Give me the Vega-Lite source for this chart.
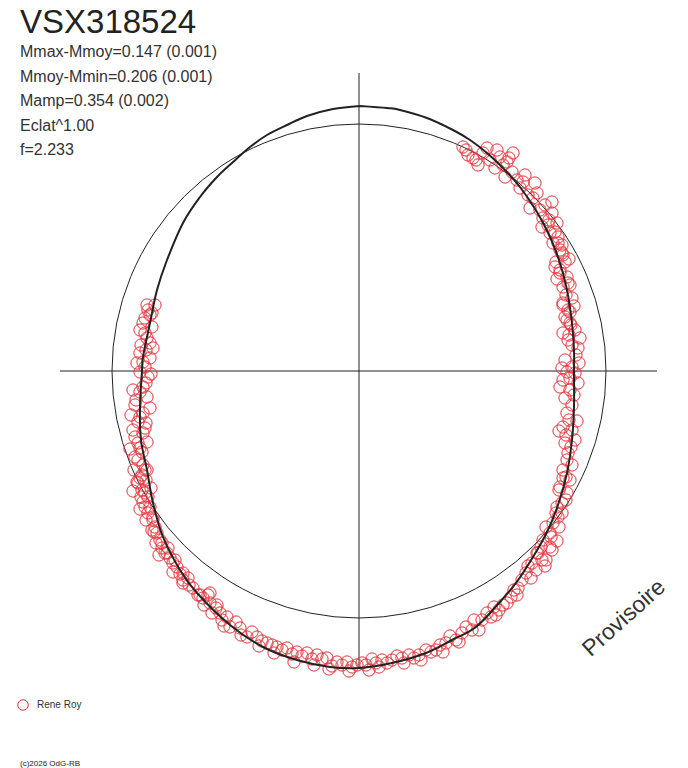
{
  "$schema": "https://vega.github.io/schema/vega-lite/v6.json",
  "description": "Polar phase diagram of VSX318524 (Rene Roy observations).",
  "width": 688,
  "height": 768,
  "autosize": "none",
  "padding": 0,
  "background": "white",
  "title": {
    "text": "VSX318524",
    "subtitle": ["Mmax-Mmoy=0.147 (0.001)", "Mmoy-Mmin=0.206 (0.001)", "Mamp=0.354 (0.002)", "Eclat^1.00", "f=2.233"],
    "anchor": "start",
    "frame": "group",
    "orient": "top",
    "offset": -158,
    "dx": 20,
    "font": "Liberation Sans",
    "fontSize": 33,
    "fontWeight": "normal",
    "color": "#222222",
    "subtitleFont": "Liberation Sans",
    "subtitleFontSize": 16,
    "subtitleColor": "#333333",
    "subtitleLineHeight": 24.5,
    "subtitlePadding": 4
  },
  "datasets": {
    "fit": [
      {"i": 0, "x": 1, "y": 265}, {"i": 1, "x": 28, "y": 263}, {"i": 2, "x": 41, "y": 261}, {"i": 3, "x": 68, "y": 253},
      {"i": 4, "x": 94, "y": 241}, {"i": 5, "x": 111, "y": 231}, {"i": 6, "x": 128, "y": 218}, {"i": 7, "x": 144, "y": 203},
      {"i": 8, "x": 161, "y": 184}, {"i": 9, "x": 178, "y": 159}, {"i": 10, "x": 191, "y": 134}, {"i": 11, "x": 201, "y": 108},
      {"i": 12, "x": 208, "y": 81}, {"i": 13, "x": 213, "y": 48}, {"i": 14, "x": 215, "y": 21}, {"i": 15, "x": 215, "y": -1},
      {"i": 16, "x": 215, "y": -36}, {"i": 17, "x": 213, "y": -69}, {"i": 18, "x": 208, "y": -102}, {"i": 19, "x": 199, "y": -134},
      {"i": 20, "x": 188, "y": -161}, {"i": 21, "x": 174, "y": -186}, {"i": 22, "x": 157, "y": -212}, {"i": 23, "x": 140, "y": -232},
      {"i": 24, "x": 117, "y": -256}, {"i": 25, "x": 93, "y": -269}, {"i": 26, "x": 67, "y": -282}, {"i": 27, "x": 33, "y": -292},
      {"i": 28, "x": 0, "y": -297}, {"i": 29, "x": -29, "y": -296}, {"i": 30, "x": -62, "y": -289}, {"i": 31, "x": -96, "y": -276},
      {"i": 32, "x": -129, "y": -254}, {"i": 33, "x": -162, "y": -222}, {"i": 34, "x": -179, "y": -199}, {"i": 35, "x": -196, "y": -166},
      {"i": 36, "x": -206, "y": -132}, {"i": 37, "x": -212, "y": -99}, {"i": 38, "x": -218, "y": -69}, {"i": 39, "x": -219, "y": -36},
      {"i": 40, "x": -217, "y": 0}, {"i": 41, "x": -216, "y": 14}, {"i": 42, "x": -209, "y": 48}, {"i": 43, "x": -202, "y": 81},
      {"i": 44, "x": -192, "y": 111}, {"i": 45, "x": -176, "y": 148}, {"i": 46, "x": -159, "y": 174}, {"i": 47, "x": -142, "y": 194},
      {"i": 48, "x": -126, "y": 209}, {"i": 49, "x": -109, "y": 224}, {"i": 50, "x": -92, "y": 236}, {"i": 51, "x": -72, "y": 246},
      {"i": 52, "x": -52, "y": 255}, {"i": 53, "x": -26, "y": 262}, {"i": 54, "x": 1, "y": 265}
    ],
    "obs": [
      {"x": 104, "y": 224}, {"x": 109, "y": 216}, {"x": 114, "y": 213}, {"x": 119, "y": 206}, {"x": 124, "y": 218},
      {"x": 138, "y": 221}, {"x": 141, "y": 214}, {"x": 154, "y": 218}, {"x": 148, "y": 209}, {"x": 136, "y": 203},
      {"x": 146, "y": 194}, {"x": 158, "y": 191}, {"x": 161, "y": 183}, {"x": 176, "y": 188}, {"x": 178, "y": 178},
      {"x": 174, "y": 173}, {"x": 193, "y": 169}, {"x": 171, "y": 163}, {"x": 181, "y": 161}, {"x": 184, "y": 153},
      {"x": 193, "y": 158}, {"x": 198, "y": 148}, {"x": 183, "y": 144}, {"x": 191, "y": 138}, {"x": 199, "y": 134},
      {"x": 194, "y": 128}, {"x": 201, "y": 121}, {"x": 204, "y": 116}, {"x": 196, "y": 104}, {"x": 201, "y": 101},
      {"x": 208, "y": 94}, {"x": 211, "y": 86}, {"x": 204, "y": 84}, {"x": 204, "y": 68}, {"x": 209, "y": 61},
      {"x": 206, "y": 54}, {"x": 211, "y": 48},
      {"x": 199, "y": 128}, {"x": 203, "y": 118}, {"x": 197, "y": 109}, {"x": 201, "y": 98}, {"x": 209, "y": 88},
      {"x": 204, "y": 66}, {"x": 211, "y": 59}, {"x": 208, "y": 51}, {"x": 216, "y": 41}, {"x": 221, "y": 33},
      {"x": 209, "y": 31}, {"x": 219, "y": 23}, {"x": 206, "y": 11}, {"x": 213, "y": 4}, {"x": 208, "y": -1},
      {"x": 216, "y": -2}, {"x": 201, "y": -16}, {"x": 211, "y": -19}, {"x": 206, "y": -27}, {"x": 213, "y": -34},
      {"x": 208, "y": -42}, {"x": 204, "y": -56}, {"x": 213, "y": -59}, {"x": 216, "y": -69}, {"x": 206, "y": -72},
      {"x": 209, "y": -82}, {"x": 204, "y": -99}, {"x": 211, "y": -109}, {"x": 201, "y": -116}, {"x": 208, "y": -122},
      {"x": 198, "y": -136}, {"x": 203, "y": -142}, {"x": 194, "y": -152}, {"x": 191, "y": -162}, {"x": 184, "y": -169},
      {"x": 191, "y": -176}, {"x": 178, "y": -182},
      {"x": 207, "y": -106}, {"x": 200, "y": -119}, {"x": 203, "y": -132}, {"x": 197, "y": -142}, {"x": 200, "y": -156},
      {"x": 192, "y": -166}, {"x": 193, "y": -179}, {"x": 182, "y": -176}, {"x": 183, "y": -189}, {"x": 173, "y": -192},
      {"x": 177, "y": -199}, {"x": 167, "y": -202}, {"x": 163, "y": -209}, {"x": 152, "y": -226}, {"x": 148, "y": -232},
      {"x": 140, "y": -239}, {"x": 132, "y": -246}, {"x": 123, "y": -249}, {"x": 115, "y": -249}, {"x": 113, "y": -259},
      {"x": 103, "y": -262}, {"x": 97, "y": -269}, {"x": 87, "y": -272}, {"x": 77, "y": -279}, {"x": 67, "y": -279},
      {"x": 60, "y": -284}, {"x": 50, "y": -284}, {"x": 43, "y": -287}, {"x": 33, "y": -289}, {"x": 23, "y": -289},
      {"x": 17, "y": -292}, {"x": 10, "y": -299}, {"x": 3, "y": -292},
      {"x": -2, "y": -294}, {"x": -12, "y": -291}, {"x": -22, "y": -291}, {"x": -32, "y": -287}, {"x": -42, "y": -284},
      {"x": -52, "y": -282}, {"x": -62, "y": -281}, {"x": -72, "y": -277}, {"x": -82, "y": -276}, {"x": -92, "y": -272},
      {"x": -102, "y": -266}, {"x": -112, "y": -266}, {"x": -119, "y": -257}, {"x": -129, "y": -256}, {"x": -132, "y": -246},
      {"x": -139, "y": -242}, {"x": -147, "y": -242}, {"x": -149, "y": -232}, {"x": -151, "y": -224}, {"x": -161, "y": -224},
      {"x": -176, "y": -212}, {"x": -176, "y": -202}, {"x": -182, "y": -196}, {"x": -184, "y": -189}, {"x": -189, "y": -187},
      {"x": -197, "y": -177}, {"x": -191, "y": -177}, {"x": -199, "y": -169}, {"x": -202, "y": -162}, {"x": -207, "y": -159},
      {"x": -206, "y": -149}, {"x": -211, "y": -142}, {"x": -209, "y": -136}, {"x": -216, "y": -131}, {"x": -214, "y": -122},
      {"x": -221, "y": -112}, {"x": -217, "y": -104}, {"x": -214, "y": -99},
      {"x": -212, "y": 66}, {"x": -204, "y": 66}, {"x": -209, "y": 56}, {"x": -216, "y": 48}, {"x": -207, "y": 44},
      {"x": -214, "y": 38}, {"x": -209, "y": 28}, {"x": -219, "y": 18}, {"x": -209, "y": 13}, {"x": -214, "y": 4},
      {"x": -211, "y": -6}, {"x": -216, "y": -16}, {"x": -212, "y": -26}, {"x": -224, "y": -34}, {"x": -216, "y": -42},
      {"x": -221, "y": -51}, {"x": -226, "y": -59}, {"x": -216, "y": -62}, {"x": -221, "y": -72}, {"x": -217, "y": -81},
      {"x": -221, "y": -89}, {"x": -212, "y": -99}, {"x": -222, "y": -111}, {"x": -217, "y": -119}, {"x": -211, "y": -126},
      {"x": -214, "y": -136}, {"x": -206, "y": -146}, {"x": -205, "y": -161}, {"x": -197, "y": -172}, {"x": -192, "y": -182},
      {"x": -186, "y": -192}, {"x": -176, "y": -209}, {"x": -159, "y": -224}, {"x": -149, "y": -222}, {"x": -142, "y": -234},
      {"x": 107, "y": 221}, {"x": 117, "y": 211}, {"x": 131, "y": 211}, {"x": 144, "y": 206}, {"x": 153, "y": 199},
      {"x": 164, "y": 189}, {"x": 169, "y": 176}, {"x": 186, "y": 166}, {"x": 189, "y": 146}, {"x": 196, "y": 139},
      {"x": 203, "y": 126}, {"x": 206, "y": 109}, {"x": 207, "y": 76}, {"x": 213, "y": 73},
      {"x": 212, "y": 46}, {"x": 204, "y": 38}, {"x": 213, "y": 26}, {"x": 217, "y": 16}, {"x": 211, "y": -7},
      {"x": 204, "y": -9}, {"x": 215, "y": -24}, {"x": 210, "y": -49}, {"x": 207, "y": -64}, {"x": 212, "y": -76},
      {"x": 208, "y": -89}, {"x": 213, "y": -94}, {"x": 204, "y": -107}, {"x": 207, "y": -129}, {"x": 199, "y": -146},
      {"x": 187, "y": -156},
      {"x": 187, "y": -189}, {"x": 179, "y": -182}, {"x": 169, "y": -195}, {"x": 159, "y": -217}, {"x": 155, "y": -219},
      {"x": 144, "y": -234}, {"x": 135, "y": -236}, {"x": 128, "y": -242}, {"x": 107, "y": -256}, {"x": 91, "y": -265},
      {"x": 81, "y": -274}, {"x": 72, "y": -281}, {"x": 55, "y": -287}, {"x": 38, "y": -285}, {"x": 28, "y": -292},
      {"x": 13, "y": -288}, {"x": 7, "y": -294},
      {"x": -7, "y": -296}, {"x": -17, "y": -294}, {"x": -27, "y": -295}, {"x": -37, "y": -288}, {"x": -47, "y": -288},
      {"x": -57, "y": -285}, {"x": -67, "y": -283}, {"x": -77, "y": -279}, {"x": -87, "y": -274}, {"x": -97, "y": -270},
      {"x": -107, "y": -261}, {"x": -123, "y": -251}, {"x": -137, "y": -249}, {"x": -143, "y": -237}, {"x": -156, "y": -227},
      {"x": -166, "y": -217}, {"x": -171, "y": -207}, {"x": -179, "y": -203}, {"x": -194, "y": -182}, {"x": -203, "y": -172},
      {"x": -204, "y": -156}, {"x": -213, "y": -149}, {"x": -218, "y": -126}, {"x": -219, "y": -107},
      {"x": -211, "y": 61}, {"x": -214, "y": 53}, {"x": -212, "y": 33}, {"x": -218, "y": 26}, {"x": -213, "y": 21},
      {"x": -216, "y": 9}, {"x": -219, "y": -1}, {"x": -213, "y": -12}, {"x": -219, "y": -21}, {"x": -223, "y": -29},
      {"x": -219, "y": -46}, {"x": -213, "y": -52}, {"x": -224, "y": -66}, {"x": -219, "y": -77}, {"x": -216, "y": -94},
      {"x": -225, "y": -99},
      {"x": -207, "y": 58}, {"x": -219, "y": 41}, {"x": -206, "y": 23}, {"x": -222, "y": 8}, {"x": -208, "y": -3},
      {"x": -226, "y": -19}, {"x": -209, "y": -37}, {"x": -228, "y": -44}, {"x": -214, "y": -57}, {"x": -229, "y": -78},
      {"x": -212, "y": -71}, {"x": -224, "y": -86}, {"x": -213, "y": -109}, {"x": -226, "y": -120}, {"x": -208, "y": -117},
      {"x": -219, "y": -138},
      {"x": -200, "y": -184}, {"x": -186, "y": -201}, {"x": -170, "y": -214}, {"x": -155, "y": -234}, {"x": -135, "y": -255},
      {"x": -118, "y": -264}, {"x": -100, "y": -275}, {"x": -85, "y": -282}, {"x": -65, "y": -291}, {"x": -45, "y": -294},
      {"x": -30, "y": -298}, {"x": -10, "y": -300},
      {"x": 20, "y": -296}, {"x": 45, "y": -292}, {"x": 62, "y": -289}, {"x": 84, "y": -281}, {"x": 100, "y": -271},
      {"x": 120, "y": -259}, {"x": 137, "y": -244}, {"x": 158, "y": -224}, {"x": 172, "y": -207}, {"x": 186, "y": -195},
      {"x": 198, "y": -170},
      {"x": 200, "y": -60}, {"x": 218, "y": -50}, {"x": 219, "y": -12}, {"x": 203, "y": 3}, {"x": 220, "y": 8},
      {"x": 210, "y": 36}, {"x": 215, "y": 65}, {"x": 198, "y": 92}, {"x": 210, "y": 112}, {"x": 190, "y": 151},
      {"x": 166, "y": 196}, {"x": 128, "y": 223}, {"x": 150, "y": 213}
    ]
  },
  "layer": [
    {
      "data": {"values": [
        {"x": -299, "x2": 298, "y": 0, "y2": 0},
        {"x": 0, "x2": 0, "y": 298, "y2": -297}
      ]},
      "mark": {"type": "rule", "color": "#222222", "strokeWidth": 1},
      "encoding": {
        "x": {"field": "x", "type": "quantitative", "scale": {"domain": [-359, 329], "nice": false, "zero": false}, "axis": null},
        "x2": {"field": "x2"},
        "y": {"field": "y", "type": "quantitative", "scale": {"domain": [-397, 371], "nice": false, "zero": false}, "axis": null},
        "y2": {"field": "y2"}
      }
    },
    {
      "data": {"values": [{"x": 0, "y": 0}]},
      "mark": {"type": "point", "shape": "circle", "filled": false, "size": 244036, "stroke": "#222222", "strokeWidth": 1, "opacity": 1},
      "encoding": {
        "x": {"field": "x", "type": "quantitative"},
        "y": {"field": "y", "type": "quantitative"}
      }
    },
    {
      "data": {"name": "obs"},
      "mark": {"type": "point", "shape": "circle", "filled": false, "size": 150, "strokeWidth": 1, "opacity": 1},
      "encoding": {
        "x": {"field": "x", "type": "quantitative"},
        "y": {"field": "y", "type": "quantitative"},
        "color": {
          "datum": "Rene Roy",
          "type": "nominal",
          "scale": {"range": ["#e5323a"]},
          "legend": {
            "orient": "none",
            "legendX": 17,
            "legendY": 699,
            "title": null,
            "labelFont": "Liberation Sans",
            "labelFontSize": 10,
            "labelColor": "#333333",
            "symbolSize": 110,
            "symbolStrokeWidth": 1,
            "labelOffset": 8
          }
        }
      }
    },
    {
      "data": {"name": "fit"},
      "mark": {"type": "line", "color": "#222222", "strokeWidth": 2, "interpolate": "cardinal"},
      "encoding": {
        "x": {"field": "x", "type": "quantitative"},
        "y": {"field": "y", "type": "quantitative"},
        "order": {"field": "i", "type": "quantitative"}
      }
    },
    {
      "data": {"values": [{"label": "Provisoire"}]},
      "mark": {"type": "text", "font": "Liberation Sans", "fontSize": 23, "angle": -42, "align": "center", "baseline": "middle", "color": "#333333"},
      "encoding": {
        "x": {"datum": 265},
        "y": {"datum": -247},
        "text": {"field": "label"}
      }
    },
    {
      "data": {"values": [{"label": "(c)2026 OdG-RB"}]},
      "mark": {"type": "text", "font": "Liberation Sans", "fontSize": 8, "align": "left", "baseline": "alphabetic", "color": "#222222"},
      "encoding": {
        "x": {"datum": -339},
        "y": {"datum": -395},
        "text": {"field": "label"}
      }
    }
  ],
  "config": {
    "view": {"stroke": null}
  }
}
